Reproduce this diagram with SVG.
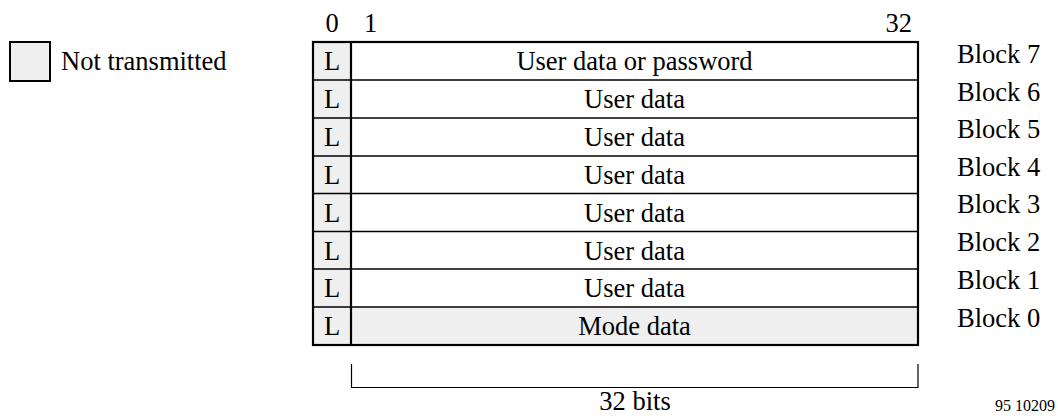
<svg xmlns="http://www.w3.org/2000/svg" width="1058" height="416" viewBox="0 0 1058 416">
<style>
text{font-family:"Liberation Serif","Times New Roman",serif;fill:#000;font-size:26.5px}
.c{text-anchor:middle}
.gray{fill:#efefef}
.ln{stroke:#000;fill:none}
</style>
<rect width="1058" height="416" fill="#fff"/>
<g id="legend">
<rect x="10" y="42" width="40" height="39" class="gray" stroke="#000" stroke-width="2"/>
<text x="61" y="70">Not transmitted</text>
</g>
<g id="bit-numbers">
<text class="c" x="332" y="32">0</text>
<text x="364" y="32">1</text>
<text x="912" y="32" text-anchor="end">32</text>
</g>
<g id="frame">
<rect x="313" y="42" width="38" height="303" class="gray"/>
<rect x="351" y="307" width="567" height="38" class="gray"/>
<g class="ln" stroke-width="1.6">
<line x1="313" y1="80" x2="918" y2="80"/>
<line x1="313" y1="118" x2="918" y2="118"/>
<line x1="313" y1="156" x2="918" y2="156"/>
<line x1="313" y1="193.5" x2="918" y2="193.5"/>
<line x1="313" y1="231.5" x2="918" y2="231.5"/>
<line x1="313" y1="269" x2="918" y2="269"/>
<line x1="313" y1="307" x2="918" y2="307"/>
</g>
<line class="ln" x1="351" y1="42" x2="351" y2="345" stroke-width="2.2"/>
<rect x="313" y="42" width="605" height="303" class="ln" stroke-width="2.2"/>
</g>
<g id="row7"><text class="c" x="332" y="70">L</text><text class="c" x="634.5" y="70">User data or password</text></g>
<g id="row6"><text class="c" x="332" y="108">L</text><text class="c" x="634.5" y="108">User data</text></g>
<g id="row5"><text class="c" x="332" y="146">L</text><text class="c" x="634.5" y="146">User data</text></g>
<g id="row4"><text class="c" x="332" y="184">L</text><text class="c" x="634.5" y="184">User data</text></g>
<g id="row3"><text class="c" x="332" y="221.5">L</text><text class="c" x="634.5" y="221.5">User data</text></g>
<g id="row2"><text class="c" x="332" y="259.5">L</text><text class="c" x="634.5" y="259.5">User data</text></g>
<g id="row1"><text class="c" x="332" y="297">L</text><text class="c" x="634.5" y="297">User data</text></g>
<g id="row0"><text class="c" x="332" y="335">L</text><text class="c" x="634.5" y="335">Mode data</text></g>
<g id="block-labels">
<text x="957" y="63">Block 7</text>
<text x="957" y="101">Block 6</text>
<text x="957" y="138">Block 5</text>
<text x="957" y="176">Block 4</text>
<text x="957" y="213">Block 3</text>
<text x="957" y="251">Block 2</text>
<text x="957" y="289">Block 1</text>
<text x="957" y="327">Block 0</text>
</g>
<g id="connectors">
<polyline class="ln" stroke-width="1.2" points="351.5,364 351.5,387.5 918,387.5 918,364"/>
</g>
<g id="bits-label">
<text class="c" x="635" y="410">32 bits</text>
</g>
<g id="figure-number">
<text x="1055" y="411" text-anchor="end" style="font-size:16px">95 10209</text>
</g>
</svg>
